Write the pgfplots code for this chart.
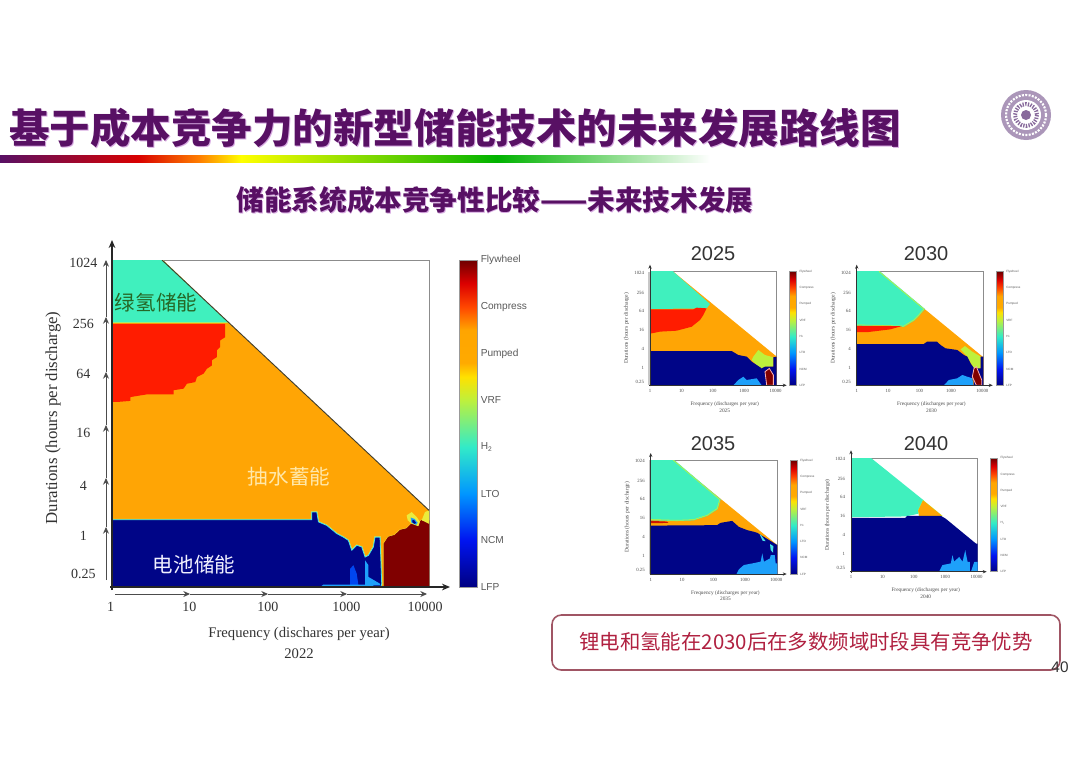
\documentclass[border=0pt]{standalone}
\usepackage{fontspec}
\usepackage{pgfplots}
\pgfplotsset{compat=1.18}
\usetikzlibrary{arrows.meta}
\setmainfont{Liberation Serif}
\newfontfamily\sans{Liberation Sans}
\newfontfamily\cjk{Noto Sans CJK SC}
\definecolor{cOrange}{RGB}{255,165,5}
\definecolor{cRed}{RGB}{255,28,0}
\definecolor{cTeal}{RGB}{64,240,190}
\definecolor{cNavy}{RGB}{0,5,135}
\definecolor{cDark}{RGB}{128,0,0}
\definecolor{cLime}{RGB}{190,240,60}
\definecolor{cSky}{RGB}{30,160,250}
\definecolor{cBlue}{RGB}{0,70,240}
\definecolor{cCyan}{RGB}{70,225,230}
\definecolor{cYel}{RGB}{235,235,60}
\definecolor{cTitle}{RGB}{88,16,100}
\definecolor{cShadow}{RGB}{215,170,225}
\definecolor{cBox}{RGB}{160,85,100}
\definecolor{cMsg}{RGB}{176,32,64}
\definecolor{cLogo}{RGB}{135,105,155}
\definecolor{cPale}{RGB}{255,232,170}
\newcommand{\Hh}{H\raisebox{-0.3ex}{\scalebox{0.65}{2}}}
\newcommand{\lab}[2]{\raisebox{#1}[0pt][0pt]{#2}}
\pgfplotsset{
  colormap={refjet}{rgb255(0pt)=(0,0,130); rgb255(10pt)=(0,20,240); rgb255(20pt)=(0,150,255);
    rgb255(30pt)=(50,235,200); rgb255(40pt)=(190,240,60); rgb255(45pt)=(255,225,0);
    rgb255(48pt)=(255,170,0); rgb255(55pt)=(255,165,0); rgb255(60pt)=(255,70,0);
    rgb255(65pt)=(220,0,0); rgb255(70pt)=(110,0,0)},
  chartbase/.style={
    scale only axis, axis on top=false,
    xmin=0, xmax=4.034, ymin=-2, ymax=10,
    xtick={0,1,2,3,4}, xticklabels={1,10,100,1000,10000},
    ytick={-2,0,2,4,6,8,10},
    tick style={draw=none},
    axis line style={draw=black!45, line width=0.6pt},
    colorbar, colormap name=refjet, point meta min=0, point meta max=7,
  },
  cbar/.style n args={3}{colorbar style={
    at={(parent axis.north east)}, anchor=north west, xshift=#1,
    width=#2, ylabel={},
    ytick={0,1,2,3,4,5,6,7},
    yticklabels={LFP,NCM,LTO,\Hh,VRF,Pumped,Compress,Flywheel},
    tick style={draw=none},
    axis line style={draw=black!40,line width=0.4pt},
    yticklabel style={font=#3, text=black!65, xshift=-1pt},
  }},
  mini/.style={
    chartbase,
    width=95pt, height=85.2pt,
    cbar={1.15pt}{5pt}{\sans\fontsize{2.3}{3}\selectfont},
    ticklabel style={text=black!70},
    xticklabel style={font=\fontsize{3.6}{4}\selectfont, yshift=0.5pt},
    yticklabel style={font=\fontsize{3.6}{4}\selectfont, xshift=-1pt},
    xlabel style={font=\fontsize{4}{5}\selectfont, align=center, text=black!70,
       at={(axis description cs:0.59,-0.19)}, anchor=center},
    ylabel style={font=\fontsize{4.2}{5}\selectfont, text=black!70,
       at={(axis description cs:-0.185,0.5)}, anchor=center},
    ylabel={Durations (hours per discharge)},
    yticklabels={\lab{1.6pt}{0.25},\lab{-2pt}{1},\lab{-2pt}{4},\lab{-2pt}{16},\lab{-2pt}{64},\lab{-2.7pt}{256},\lab{-1.8pt}{1024}},
  },
  region/.style={fill=#1, draw=none, forget plot},
  edge/.style n args={3}{fill=#1, draw=#2, line width=0.6pt,
     preaction={draw=#3, line width=1.2pt}, forget plot},
}
\newcommand{\miniaxes}[4]{%
  \draw[black!80, line width=0.5pt, -{Stealth[length=3pt,width=2.5pt]}] (#1,{#4+1}) -- (#1,{#3-7});
  \draw[black!80, line width=0.5pt, -{Stealth[length=3pt,width=2.5pt]}] ({#1-1},#4) -- ({#2+10},#4);
}
\begin{document}
\begin{tikzpicture}[x=0.75pt,y=-0.75pt]
\useasboundingbox (0,0) rectangle (1080,764);
\fill[white] (0,0) rectangle (1080,764);

% ---- header
\node[text=cShadow, font=\cjk\bfseries\fontsize{30.4}{32}\selectfont, anchor=center] at (456,129) {基于成本竞争力的新型储能技术的未来发展路线图};
\node[text=cTitle, font=\cjk\bfseries\fontsize{30.4}{32}\selectfont, anchor=center] at (455,128) {基于成本竞争力的新型储能技术的未来发展路线图};
\shade[left color=cTitle, right color=red!85!black] (0,155) rectangle (138,162);
\shade[left color=red!85!black, right color=orange] (138,155) rectangle (200,162);
\shade[left color=orange, right color=yellow] (200,155) rectangle (241,162);
\shade[left color=yellow, right color=green!70!black] (241,155) rectangle (497,162);
\shade[left color=green!70!black, right color=white] (497,155) rectangle (710,162);
\node[text=cShadow, font=\cjk\bfseries\fontsize{20.7}{22}\selectfont] at (495.7,200.7) {储能系统成本竞争性比较——未来技术发展};
\node[text=cTitle, font=\cjk\bfseries\fontsize{20.7}{22}\selectfont] at (495,200) {储能系统成本竞争性比较——未来技术发展};

% logo
\fill[cLogo!70] (1026,115) circle[radius=25];
\draw[white, line width=1.6pt, dash pattern=on 1.5pt off 1pt] (1026,115) circle[radius=20];
\fill[white] (1026,115) circle[radius=15];
\draw[cLogo, line width=3pt, dash pattern=on 1pt off 1pt] (1026,115) circle[radius=11];
\fill[cLogo] (1026,115) circle[radius=5];

% ---- main chart
\begin{axis}[chartbase, at={(84pt,-440.25pt)}, anchor=south west,
  width=237.75pt, height=245.25pt,
  cbar={14.25pt}{13.5pt}{\sans\fontsize{7.6}{9}\selectfont},
  xticklabel style={font=\fontsize{10.5}{12}\selectfont, text=black!80, yshift=-8pt, xshift=-1pt},
  yticklabel style={font=\fontsize{10.5}{12}\selectfont, text=black!80, anchor=center, xshift=-21.5pt},
  yticklabels={\lab{6.35pt}{0.25},\lab{-6pt}{1},\lab{-9.4pt}{4},\lab{-10.5pt}{16},\lab{-7.15pt}{64},\lab{-10.5pt}{256},\lab{-5.65pt}{1024}},
  xlabel={Frequency (dischares per year)\\2022},
  xlabel style={font=\fontsize{11}{15.75}\selectfont, align=center, text=black!80,
     at={(axis description cs:0.59,-0.171)}, anchor=center},
  ylabel={Durations (hours per discharge)},
  ylabel style={font=\fontsize{12.6}{14}\selectfont, text=black!80,
     at={(axis description cs:-0.186,0.517)}, anchor=center},
]
\addplot[region=cOrange] coordinates {(-1,-3)(-1,10)(0.636,10)(4.034,0.813)(5,0.813)(5,-3)} --cycle;
\addplot[edge={cTeal}{cTeal}{cYel}] coordinates {(-1,11)(0.636,11)(0.636,10)(1.462,7.725)(-1,7.725)} --cycle;
\addplot[region=cRed] coordinates {(-1,7.66)(1.441,7.66)(1.441,7.17)(1.377,7.05)(1.377,6.81)(1.335,6.69)(1.335,6.44)(1.271,6.32)(1.271,6.13)(1.208,6.01)(1.165,5.83)(1.081,5.71)(1.059,5.52)(0.953,5.46)(0.911,5.28)(0.784,5.22)(0.784,5.07)(0.445,5.07)(0.233,4.97)(0.233,4.83)(0.064,4.79)(-1,4.79)} --cycle;
\addplot[edge={cNavy}{cCyan}{cYel}] coordinates {(-1,0.47)(2.542,0.47)(2.542,0.75)(2.606,0.75)(2.627,0.39)(2.733,0.26)(2.860,-0.04)(2.945,-0.17)(3.008,-0.29)(3.051,-0.65)(3.114,-0.47)(3.178,-0.53)(3.220,-0.90)(3.263,-0.84)(3.326,-0.53)(3.347,-0.17)(3.411,-0.17)(3.432,-1.88)(3.326,-3)(-1,-3)} --cycle;
\addplot[region=cBlue] coordinates {(3.030,-1.94)(3.030,-1.33)(3.072,-1.2)(3.114,-1.51)(3.136,-1.94)} --cycle;
\addplot[region=cSky] coordinates {(3.220,-1.94)(3.220,-1.02)(3.263,-1.2)(3.263,-1.63)(3.411,-1.88)(3.411,-1.94)} --cycle;
\addplot[region=cSky] coordinates {(2.648,-2)(2.691,-1.91)(3.326,-1.91)(3.326,-2)} --cycle;
\addplot[edge={cDark}{cDark}{cYel}] coordinates {(3.462,-3)(3.462,-0.41)(3.517,-0.17)(3.602,-0.10)(3.665,0.08)(3.75,0.14)(3.814,0.32)(3.877,0.26)(3.941,0.45)(5,0.32)(5,-3)} --cycle;
\addplot[region=cYel] coordinates {(3.983,0.75)(4.034,0.813)(4.034,0.32)(3.941,0.45)} --cycle;
\addplot[region=cYel] coordinates {(3.75,0.63)(3.814,0.75)(3.877,0.57)(3.919,0.39)(3.898,0.23)(3.814,0.32)(3.763,0.45)} --cycle;
\addplot[region=cSky] coordinates {(3.80,0.55)(3.85,0.50)(3.89,0.36)(3.87,0.28)(3.81,0.36)} --cycle;
\addplot[region=cNavy] coordinates {(3.825,0.47)(3.85,0.44)(3.87,0.35)(3.85,0.32)(3.82,0.38)} --cycle;
\addplot[draw=black!70!olive, line width=0.7pt, forget plot] coordinates {(0.636,10)(4.034,0.813)};
\end{axis}
\node[text=green!30!black!85, font=\cjk\fontsize{15.4}{17}\selectfont] at (156,303) {绿氢储能};
\node[text=cPale, font=\cjk\fontsize{15.4}{17}\selectfont] at (289,477) {抽水蓄能};
\node[text=blue!6!white, font=\cjk\fontsize{15.4}{17}\selectfont] at (194,565) {电池储能};
\draw[black!85, line width=1pt, -{Stealth[length=6pt,width=5pt]}] (112,590) -- (112,240);
\draw[black!85, line width=1pt, -{Stealth[length=6pt,width=5pt]}] (110,587) -- (450,587);
\foreach \a/\b in {580/527,527/478,478/425,425/372,372/317,317/260}
  \draw[black!70, line width=0.7pt, -{Stealth[length=5pt,width=4.5pt]}] (106,\a) -- (106,\b);
\foreach \a/\b in {115/190,190/268,268/347,347/427}
  \draw[black!70, line width=0.7pt, -{Stealth[length=5pt,width=4.5pt]}] (\a,594) -- (\b,594);

% ---- 2025
\node[text=black!80, font=\sans\fontsize{15}{17}\selectfont] at (713,254) {2025};
\fill[black!22] (648,272) rectangle (651,385);
\begin{axis}[mini, at={(487.5pt,-288.98pt)}, anchor=south west, xlabel={Frequency (discharges per year)\\2025}]
\addplot[region=cOrange] coordinates {(-1,-3)(-1,10)(0.743,10)(4.034,1.03)(5,1.03)(5,-3)} --cycle;
\addplot[region=cTeal] coordinates {(-1,11)(0.743,11)(0.743,10)(1.911,6.59)(1.805,6.13)(-1,6.02)} --cycle;
\addplot[region=cRed] coordinates {(-1,6.02)(1.38,6.02)(1.486,6.2)(1.805,6.13)(1.699,5.43)(1.592,4.90)(1.327,4.19)(0.849,3.77)(0.318,3.67)(0.053,3.49)(-1,3.49)} --cycle;
\addplot[region=cLime] coordinates {(3.291,1.03)(3.45,1.73)(3.662,1.20)(3.928,0.96)(3.928,-0.03)(3.662,-0.03)(3.556,-0.21)(3.397,0.15)(3.238,0.67)} --cycle;
\addplot[region=cNavy] coordinates {(-1,1.62)(2.601,1.62)(2.813,1.20)(3.079,1.03)(3.238,0.50)(3.397,0.15)(3.556,-0.21)(3.609,-1.09)(3.631,-3)(-1,-3)} --cycle;
\addplot[region=cNavy] coordinates {(3.631,-3)(3.556,-0.21)(3.662,-0.03)(3.928,-0.03)(3.928,0.96)(4.034,1.03)(5,1.03)(5,-3)} --cycle;
\addplot[region=cSky] coordinates {(2.654,-2)(2.813,-1.44)(2.972,-1.09)(3.079,-1.44)(3.397,-1.26)(3.556,-2)} --cycle;
\addplot[fill=cDark, draw=red!30!white, line width=0.6pt, forget plot] coordinates {(3.662,-0.56)(3.80,-0.21)(3.928,-0.91)(3.928,-2)(3.716,-2)} --cycle;
\end{axis}
\miniaxes{650}{776.7}{271.7}{385.3}

% ---- 2030
\node[text=black!80, font=\sans\fontsize{15}{17}\selectfont] at (926,254) {2030};
\begin{axis}[mini, at={(642.53pt,-288.98pt)}, anchor=south west, xlabel={Frequency (discharges per year)\\2030}]
\addplot[region=cOrange] coordinates {(-1,-3)(-1,10)(0.715,10)(4.034,0.96)(5,0.96)(5,-3)} --cycle;
\addplot[edge={cTeal}{cLime}{cTeal}, line width=0.4pt, preaction={line width=0.4pt}] coordinates {(-1,11)(0.715,11)(0.715,10)(2.134,6.06)(1.974,5.43)(1.814,4.90)(1.494,4.26)(-1,4.48)} --cycle;
\addplot[region=cRed] coordinates {(-1,4.30)(1.441,4.26)(1.067,3.91)(0.374,3.63)(-1,3.56)} --cycle;
\addplot[region=cLime] coordinates {(3.308,1.80)(3.447,2.15)(3.682,1.55)(3.949,1.03)(3.949,-0.21)(3.735,-0.21)(3.522,1.03)} --cycle;
\addplot[region=cNavy] coordinates {(-1,2.36)(2.134,2.36)(2.241,2.61)(2.561,2.61)(2.668,2.26)(2.828,1.91)(3.202,1.73)(3.415,1.20)(3.522,1.03)(3.628,0.32)(3.735,-0.21)(3.682,-1.09)(3.714,-3)(-1,-3)} --cycle;
\addplot[region=cNavy] coordinates {(3.714,-3)(3.735,-0.21)(3.949,-0.21)(3.949,1.03)(5,0.96)(5,-3)} --cycle;
\addplot[region=cSky] coordinates {(2.775,-2)(2.935,-1.44)(3.202,-1.26)(3.362,-0.91)(3.522,-1.09)(3.682,-1.26)(3.714,-2)} --cycle;
\addplot[fill=cDark, draw=red!30!white, line width=0.6pt, forget plot] coordinates {(3.735,-0.21)(3.810,-0.03)(3.981,-1.44)(3.981,-2)(3.810,-2)(3.682,-1.09)} --cycle;
\end{axis}
\miniaxes{856.7}{982.7}{271.7}{385.3}

% ---- 2035
\node[text=black!80, font=\sans\fontsize{15}{17}\selectfont] at (713,444) {2035};
\fill[black!22] (648.5,460) rectangle (651.5,574);
\begin{axis}[mini, at={(488.03pt,-430.5pt)}, anchor=south west, xlabel={Frequency (discharges per year)\\2035}]
\addplot[region=cOrange] coordinates {(-1,-3)(-1,10)(0.726,10)(4.034,1.05)(5,1.05)(5,-3)} --cycle;
\addplot[edge={cTeal}{cLime}{cTeal}, line width=0.4pt, preaction={line width=0.4pt}] coordinates {(-1,11)(0.726,11)(0.726,10)(2.198,5.86)(2.113,4.91)(1.793,4.21)(1.366,3.75)(0.832,3.68)(-1,3.86)} --cycle;
\addplot[region=cRed!80!black] coordinates {(-1,3.75)(0.512,3.54)(0.566,3.40)(-1,3.30)} --cycle;
\addplot[region=cNavy] coordinates {(-1,3.09)(2.113,3.16)(2.220,3.40)(2.593,3.61)(2.807,2.98)(3.074,2.63)(3.287,2.46)(3.394,2.35)(4.034,1.05)(5,1.05)(5,-3)(-1,-3)} --cycle;
\addplot[region=cCyan] coordinates {(3.468,2.21)(3.522,2.07)(3.660,1.47)(3.564,1.51)} --cycle;
\addplot[region=cCyan] coordinates {(3.799,1.16)(3.906,0.95)(3.895,0.25)(3.821,0.53)} --cycle;
\addplot[region=cSky] coordinates {(2.732,-2)(2.807,-1.51)(2.967,-1.05)(3.234,-0.88)(3.500,-0.70)(3.554,0.18)(3.607,-0.70)(3.799,-0.35)(3.821,0)(3.949,0)(3.981,-0.88)(4.034,-0.88)(4.034,-2)} --cycle;
\end{axis}
\miniaxes{650.7}{776.7}{460}{574}

% ---- 2040
\node[text=black!80, font=\sans\fontsize{15}{17}\selectfont] at (926,444) {2040};
\begin{axis}[mini, at={(638.25pt,-428.78pt)}, anchor=south west, xlabel={Frequency (discharges per year)\\2040}]
\addplot[region=cTeal] coordinates {(-1,11)(0.642,11)(0.642,10)(2.322,5.52)(2.14,4.12)(1.733,3.84)(-1,3.70)} --cycle;
\addplot[edge={cOrange}{cOrange}{cLime}, line width=0.4pt, preaction={line width=0.5pt}] coordinates {(2.30,5.45)(2.857,3.95)(2.183,3.95)(2.161,4.47)} --cycle;
\addplot[region=cNavy] coordinates {(-1,3.67)(1.733,3.70)(1.787,3.91)(2.857,3.91)(3.017,3.60)(3.98,0.97)(5,0.97)(5,-3)(-1,-3)} --cycle;
\addplot[region=cSky] coordinates {(2.803,-2)(2.91,-1.30)(3.178,-1.125)(3.231,-0.25)(3.285,-0.95)(3.445,-0.43)(3.552,-0.95)(3.638,0.27)(3.713,-0.95)(3.788,-0.95)(3.788,-2)} --cycle;
\addplot[region=cSky] coordinates {(3.82,-2)(3.927,-0.95)(4.034,-0.95)(4.034,-2)} --cycle;
\end{axis}
\miniaxes{851}{976.7}{457.3}{571.7}

% ---- message box
\draw[cBox, line width=1.2pt, rounded corners=7pt] (552,615) rectangle (1060,670);
\node[text=cMsg, font=\cjk\fontsize{15.3}{17}\selectfont] at (806,642) {锂电和氢能在2030后在多数频域时段具有竞争优势};
\node[text=black!80, font=\sans\fontsize{11.5}{13}\selectfont] at (1060,667) {40};
\end{tikzpicture}
\end{document}
